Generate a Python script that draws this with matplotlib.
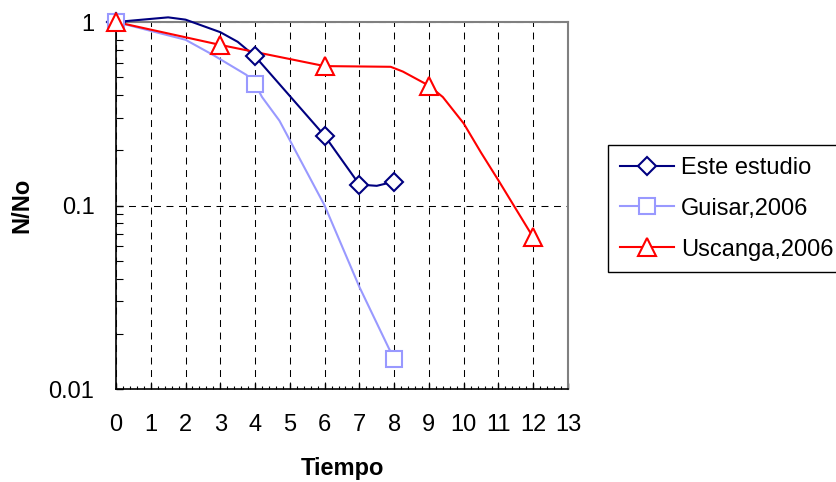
import matplotlib
matplotlib.use('Agg')
import matplotlib.pyplot as plt
from matplotlib.lines import Line2D
from matplotlib.ticker import LogLocator, MultipleLocator, FixedLocator, FixedFormatter, NullFormatter

plt.rcParams['font.family'] = ['Liberation Sans', 'DejaVu Sans']
plt.rcParams['lines.scale_dashes'] = False

# ---------------- data ----------------
series_names = ['Este estudio', 'Guisar,2006', 'Uscanga,2006']

# marked data points
este_x = [0, 4, 6, 7, 8]
este_y = [1.0, 0.65, 0.24, 0.13, 0.135]
guisar_x = [0, 4, 8]
guisar_y = [1.0, 0.46, 0.0145]
uscanga_x = [0, 3, 6, 9, 12]
uscanga_y = [1.0, 0.75, 0.575, 0.45, 0.067]

# connecting line paths
este_line_x = [0, 1.5, 2, 3, 3.5, 4, 6, 7, 7.5, 8]
este_line_y = [1.0, 1.06, 1.03, 0.88, 0.78, 0.65, 0.24, 0.13, 0.128, 0.135]
guisar_line_x = [0, 2, 2.8, 3.75, 4, 4.2, 4.7, 6, 7, 8]
guisar_line_y = [1.0, 0.80, 0.66, 0.515, 0.46, 0.39, 0.29, 0.10, 0.036, 0.0145]
uscanga_line_x = [0, 3, 6, 7.9, 8.25, 9, 9.4, 10, 10.5, 11, 12]
uscanga_line_y = [1.0, 0.75, 0.575, 0.57, 0.537, 0.45, 0.39, 0.28, 0.194, 0.137, 0.067]

x_ticks = list(range(0, 14))
y_ticks = [0.01, 0.1, 1]
y_tick_labels = ['0.01', '0.1', '1']

# ---------------- styles ----------------
colors = ['#000080', '#9999FF', '#FF0000']
markers = ['D', 's', '^']
msizes = [9.2, 11.5, 12.5]
FS = 17

W, H = 836, 482
fig = plt.figure(figsize=(W / 100, H / 100), dpi=100)
L, R, T, B = 116, 568, 22, 389
ax = fig.add_axes([L / W, 1 - B / H, (R - L) / W, (B - T) / H])

ax.set_yscale('log')
ax.set_xlim(0, 13)
ax.set_ylim(0.01, 1)

lines_data = [(este_line_x, este_line_y), (guisar_line_x, guisar_line_y), (uscanga_line_x, uscanga_line_y)]
marks_data = [(este_x, este_y), (guisar_x, guisar_y), (uscanga_x, uscanga_y)]

for i, (lx, ly) in enumerate(lines_data):
    ax.plot(lx, ly, color=colors[i], lw=1.5, clip_on=False, zorder=4 + i * 0.1,
            solid_joinstyle='round')
for i, (mx, my) in enumerate(marks_data):
    ax.plot(mx, my, linestyle='none', marker=markers[i], ms=msizes[i], mfc='white',
            mec=colors[i], mew=1.5, clip_on=False, zorder=5 + i * 0.1)

# grid
ax.grid(True, which='major', axis='both', color='black', lw=0.75, linestyle=(0, (5, 4)))
ax.set_axisbelow(True)

# ticks
ax.xaxis.set_major_locator(FixedLocator(x_ticks))
ax.xaxis.set_minor_locator(MultipleLocator(0.2))
ax.yaxis.set_major_locator(FixedLocator(y_ticks))
ax.yaxis.set_major_formatter(FixedFormatter(y_tick_labels))
ax.yaxis.set_minor_locator(LogLocator(base=10, subs=range(2, 10)))
ax.yaxis.set_minor_formatter(NullFormatter())

ax.tick_params(axis='x', which='major', direction='in', length=4.5, width=1, pad=18,
               labelsize=FS, top=False)
ax.tick_params(axis='x', which='minor', direction='in', length=2.5, width=0.8, top=False)
ax.tick_params(axis='y', which='major', direction='in', length=5, width=1, pad=15.5,
               labelsize=FS, right=False)
ax.tick_params(axis='y', which='minor', direction='in', length=5, width=0.8, right=False)

for s in ['left', 'bottom']:
    ax.spines[s].set_color('black')
    ax.spines[s].set_linewidth(1.2)
for s in ['top', 'right']:
    ax.spines[s].set_color('#808080')
    ax.spines[s].set_linewidth(1.5)

ax.set_xlabel('Tiempo', fontsize=FS, fontweight='bold')
ax.xaxis.label.set_va('center')
ax.xaxis.set_label_coords(0.5, (B - 469) / (B - T))
ax.set_ylabel('N/No', fontsize=FS, fontweight='bold')
ax.yaxis.label.set_va('center')
ax.yaxis.set_label_coords((22 - L) / (R - L), 0.5)

handles = [Line2D([], [], color=colors[i], lw=1.5, marker=markers[i], ms=msizes[i],
                  mfc='white', mec=colors[i], mew=1.5) for i in range(3)]
leg = fig.legend(handles, series_names, loc='upper left',
                 bbox_to_anchor=(608 / W, 1 - 145 / H), bbox_transform=fig.transFigure,
                 fontsize=FS, frameon=True, fancybox=False, shadow=False,
                 handlelength=2.3, handletextpad=0.3, borderpad=0.5,
                 labelspacing=0.8, borderaxespad=0, numpoints=1)
leg.get_frame().set_edgecolor('black')
leg.get_frame().set_linewidth(1.0)
leg.get_frame().set_alpha(1)

fig.savefig('out.png', dpi=100)
